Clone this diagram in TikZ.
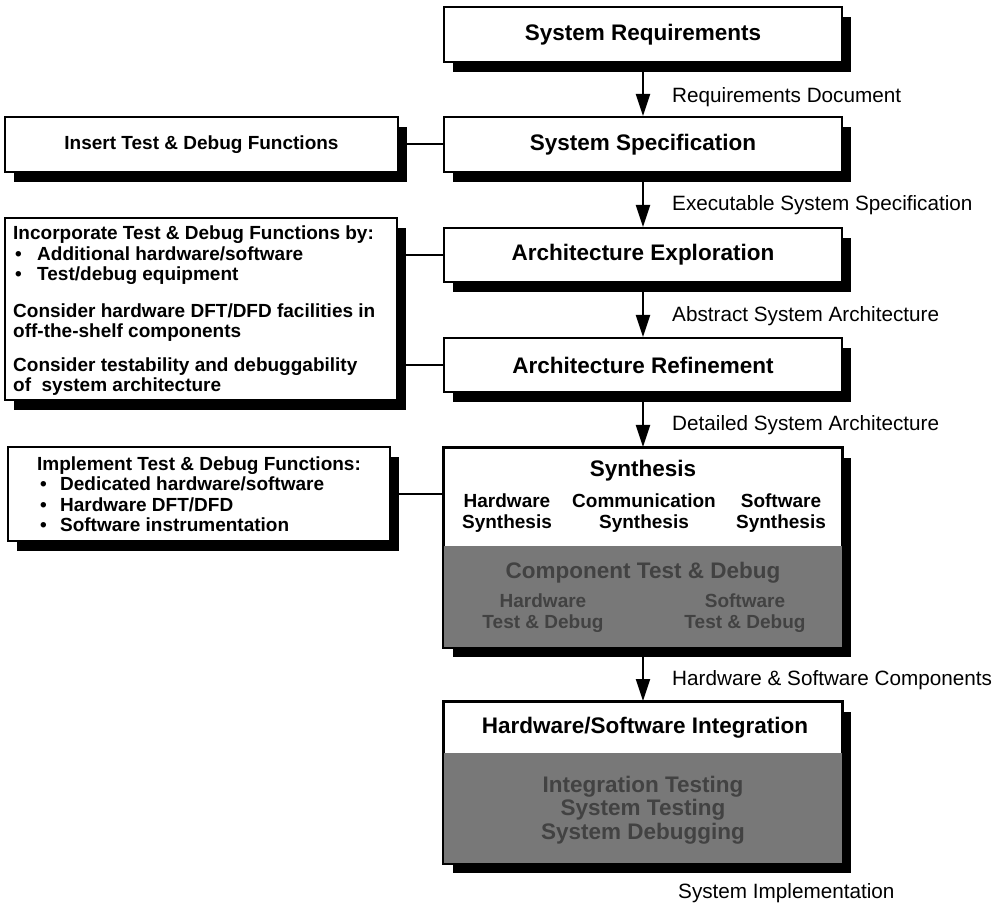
\documentclass[tikz,border=0pt]{standalone}
\usepackage{fontspec}
\setmainfont{Liberation Sans}
\usetikzlibrary{arrows.meta,shadows}
\definecolor{shadegray}{gray}{0.47}
\definecolor{shadetext}{gray}{0.26}
\begin{document}
\begin{tikzpicture}[x=1pt,y=-1pt,
  boxline/.style={draw=black,line width=2pt},
  hardshadow/.style={general shadow={fill=black,shadow xshift=9pt,shadow yshift=-10pt}},
  stage/.style={boxline,fill=white,rectangle,minimum width=398pt,inner sep=0pt,hardshadow},
  note/.style={boxline,fill=white,rectangle,inner sep=0pt,hardshadow},
  title/.style={font=\bfseries\fontsize{22.5}{23}\selectfont,align=center,inner sep=0pt},
  sub/.style={font=\bfseries\fontsize{19}{20.5}\selectfont,align=center,inner sep=0pt},
  flowlabel/.style={font=\fontsize{20.7}{24}\selectfont,anchor=west,inner sep=0pt},
  notetext/.style={font=\bfseries\fontsize{19}{20.5}\selectfont,align=left,inner sep=0pt},
  onshade/.style={text=shadetext},
  flow/.style={line width=2.2pt,-{Triangle[length=22pt,width=14pt]}},
  link/.style={line width=2pt}
]
\useasboundingbox (0,0) rectangle (1005,909);

% main design flow
\node[stage,minimum height=55pt,title] (req)    at (643,34.5)  {System Requirements};
\node[stage,minimum height=55pt,title] (spec)   at (643,144.5) {System Specification};
\node[stage,minimum height=54pt,title] (arch)   at (643,255)   {Architecture Exploration};
\node[stage,minimum height=54pt,title] (refine) at (643,365)   {Architecture Refinement};
\node[stage,minimum height=199pt] (synth) at (643,547.5) {};
\node[stage,minimum height=161pt] (integ) at (643,782.5) {};

% shaded lower halves of the two split boxes
\fill[shadegray] ([yshift=102pt]synth.south west) rectangle (synth.south east);
\draw[boxline] (synth.north west) rectangle (synth.south east);
\fill[shadegray] ([yshift=111pt]integ.south west) rectangle (integ.south east);
\draw[boxline] (integ.north west) rectangle (integ.south east);

% synthesis box contents
\node[title] (synthtitle) at (643,471) {Synthesis};
\node[sub] (hwsyn)  at (507,513) {Hardware\\Synthesis};
\node[sub] (comsyn) at (644,513) {Communication\\Synthesis};
\node[sub] (swsyn)  at (781,513) {Software\\Synthesis};
\node[title,onshade] (ctd) at (643,573) {Component Test \& Debug};
\node[sub,onshade] (hwtd) at (543,613) {Hardware\\Test \& Debug};
\node[sub,onshade] (swtd) at (745,613) {Software\\Test \& Debug};

% integration box contents
\node[title] (integtitle) at (645,728) {Hardware/Software Integration};
\node[title,onshade,font=\bfseries\fontsize{22.5}{23.5}\selectfont] (itests) at (643,810)
  {Integration Testing\\System Testing\\System Debugging};

% side notes on test and debug
\node[note,minimum width=393pt,minimum height=55pt,font=\bfseries\fontsize{19}{21}\selectfont] (ins) at (201.5,144.5)
  {Insert Test \& Debug Functions};
\node[note,minimum width=392pt,minimum height=182pt] (inc) at (201,309) {};
\node[notetext,anchor=west] (inctext) at (13,311) {%
  Incorporate Test \& Debug Functions by:\\
  \hspace*{2pt}\makebox[22pt][l]{•}Additional hardware/software\\
  \hspace*{2pt}\makebox[22pt][l]{•}Test/debug equipment\\[16pt]
  Consider hardware DFT/DFD facilities in\\
  off-the-shelf components\\[13pt]
  Consider testability and debuggability\\
  of\ \ system architecture};
\node[note,minimum width=382pt,minimum height=94pt,notetext] (impl) at (199,494) {%
  Implement Test \& Debug Functions:\\
  \hspace*{3pt}\makebox[20pt][l]{•}Dedicated hardware/software\\
  \hspace*{3pt}\makebox[20pt][l]{•}Hardware DFT/DFD\\
  \hspace*{3pt}\makebox[20pt][l]{•}Software instrumentation};

% links from notes to the flow
\draw[link] (ins.east) -- (spec.west);
\draw[link] (arch.west) -- (arch.west -| inc.east);
\draw[link] (refine.west) -- (refine.west -| inc.east);
\draw[link] (impl.east) -- (impl.east -| synth.west);

% flow arrows
\draw[flow] (req.south) -- (spec.north);
\draw[flow] (spec.south) -- (arch.north);
\draw[flow] (arch.south) -- (refine.north);
\draw[flow] (refine.south) -- (synth.north);
\draw[flow] (synth.south) -- (integ.north);

% artefacts passed between stages
\node[flowlabel] (doc1) at (672,97)  {Requirements Document};
\node[flowlabel] (doc2) at (672,205) {Executable System Specification};
\node[flowlabel] (doc3) at (672,316) {Abstract System Architecture};
\node[flowlabel] (doc4) at (672,425) {Detailed System Architecture};
\node[flowlabel] (doc5) at (672,680) {Hardware \& Software Components};
\node[flowlabel] (doc6) at (678,893) {System Implementation};
\end{tikzpicture}
\end{document}
